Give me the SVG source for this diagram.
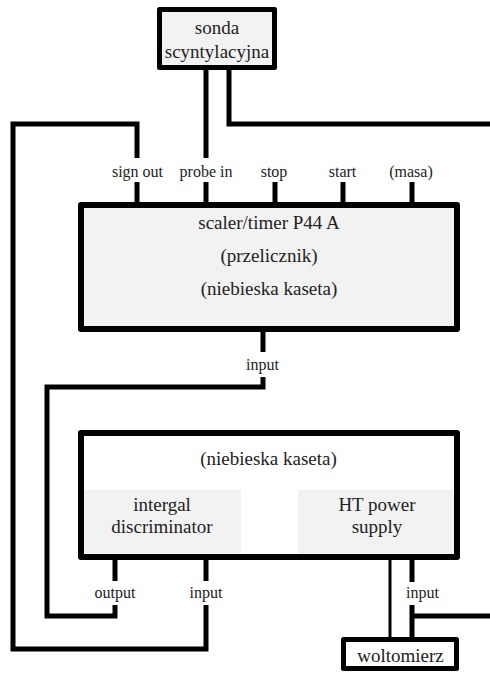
<svg xmlns="http://www.w3.org/2000/svg" width="490" height="673" viewBox="0 0 490 673">
<style>
.box{stroke:#000;stroke-linejoin:round}
.gray{fill:#f2f2f2}
.wire{fill:none;stroke:#000;stroke-width:5;stroke-linejoin:miter;stroke-linecap:butt}
.thin{fill:none;stroke:#000;stroke-width:3}
text{font-family:'Liberation Serif','Times New Roman',serif;fill:#222;text-anchor:middle}
.big{font-size:19px}
.lbl{font-size:16px}
</style>
<rect width="490" height="673" fill="#fff"/>
<g id="connectors">
  <path class="wire" d="M206,70 V158 M206,182 V202"/>
  <path class="wire" d="M229,70 V124 H490"/>
  <path class="wire" d="M137,202 V182 M137,158 V124 H13 V649 H206 V605 M206,581 V560"/>
  <path class="wire" d="M275,182 V202 M343,182 V202 M412,182 V202"/>
  <path class="wire" d="M263,332 V352 M263,377 V387 H47 V616 H115 V605 M115,581 V560"/>
  <path class="thin" d="M390,560 V637"/>
  <path class="wire" d="M412,560 V582 M412,605 V637 M412,616 H490"/>
</g>
<g id="sonda">
  <rect class="box gray" x="159.5" y="9.5" width="115" height="58" stroke-width="5"/>
  <text class="big" x="217" y="34">sonda</text>
  <text class="big" x="217" y="58">scyntylacyjna</text>
</g>
<g id="scaler">
  <rect class="box gray" x="81" y="205" width="376" height="124" stroke-width="6"/>
  <text class="big" x="269" y="229">scaler/timer P44 A</text>
  <text class="big" x="269" y="262">(przelicznik)</text>
  <text class="big" x="269" y="295">(niebieska kaseta)</text>
</g>
<g id="scaler-labels">
  <text class="lbl" x="137.5" y="177">sign out</text>
  <text class="lbl" x="206" y="177">probe in</text>
  <text class="lbl" x="274" y="177">stop</text>
  <text class="lbl" x="342.5" y="177">start</text>
  <text class="lbl" x="411" y="177">(masa)</text>
  <text class="lbl" x="262.5" y="370">input</text>
</g>
<g id="kaseta2">
  <rect class="box" x="81" y="433" width="376" height="124" stroke-width="6" fill="#fff"/>
  <text class="big" x="268.5" y="465">(niebieska kaseta)</text>
</g>
<g id="discriminator">
  <rect class="gray" x="84" y="490" width="157" height="64"/>
  <text class="big" x="162" y="511">intergal</text>
  <text class="big" x="162" y="533">discriminator</text>
  <text class="lbl" x="115" y="598">output</text>
  <text class="lbl" x="206" y="598">input</text>
</g>
<g id="htpower">
  <rect class="gray" x="298" y="490" width="156" height="64"/>
  <text class="big" x="377" y="511">HT power</text>
  <text class="big" x="377" y="533">supply</text>
  <text class="lbl" x="422.5" y="598">input</text>
</g>
<g id="woltomierz">
  <rect class="box" x="343.5" y="639.5" width="113" height="29" stroke-width="5" fill="#fff"/>
  <text class="big" x="400.5" y="662">woltomierz</text>
</g>
</svg>
